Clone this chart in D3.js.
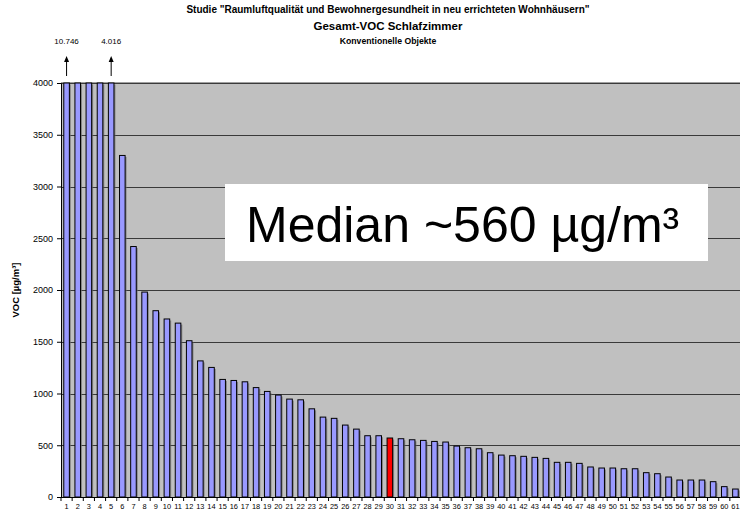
<!DOCTYPE html>
<html>
<head>
<meta charset="utf-8">
<script src="https://cdn.jsdelivr.net/npm/d3@7/dist/d3.min.js"></script>
<style>
  html, body { margin: 0; padding: 0; background: #fff; }
  svg { display: block; font-family: "Liberation Sans", Arial, sans-serif; }
</style>
</head>
<body>
<svg id="chart" width="740" height="516"></svg>
<script>
// Gesamt-VOC im Schlafzimmer, 61 konventionelle Objekte, absteigend sortiert
const objekte = d3.range(1, 62);
const vocWerte = [
  10746, 6200, 5100, 4400, 4016, 3300, 2420, 1980, 1800, 1720,
  1680, 1510, 1315, 1252, 1136, 1126, 1113, 1057, 1020, 985,
  946, 939, 852, 772, 760, 695, 656, 592, 592, 570,
  563, 553, 547, 537, 531, 492, 476, 466, 428, 405,
  399, 393, 383, 373, 335, 335, 325, 290, 280, 280,
  273, 273, 235, 225, 193, 164, 164, 164, 148, 100,
  77
];
const medianObjekt = 30;
const beschriftet = [1, 5];          // Werte oberhalb der Skala
const yTicks = [0, 500, 1000, 1500, 2000, 2500, 3000, 3500, 4000];
const titelZeilen = [
  'Studie "Raumluftqualität und Bewohnergesundheit in neu errichteten Wohnhäusern"',
  "Gesamt-VOC Schlafzimmer",
  "Konventionelle Objekte"
];
const medianText = "Median ~560 µg/m³";
const yTitel = "VOC [µg/m³]";

const de = d3.formatLocale({ decimal: ",", thousands: ".", grouping: [3], currency: ["", " €"] });
const fmt = de.format(",");

const svg = d3.select("#chart");
const plot = { left: 61, right: 741, top: 83, bottom: 497 };

const x = d3.scaleBand().domain(objekte).range([plot.left, plot.right]).paddingInner(0.5).paddingOuter(0.25);
const y = d3.scaleLinear().domain([0, 4000]).range([plot.bottom, plot.top]).clamp(true);

// Zeichenfläche
svg.append("rect")
  .attr("x", plot.left).attr("y", plot.top)
  .attr("width", plot.right - plot.left).attr("height", plot.bottom - plot.top)
  .attr("fill", "#c0c0c0");
svg.append("line")
  .attr("x1", plot.left).attr("x2", plot.right)
  .attr("y1", plot.top - 0.5).attr("y2", plot.top - 0.5)
  .attr("stroke", "#a0a0a0").attr("stroke-width", 1);

// Gitternetzlinien
svg.append("g").selectAll("line")
  .data(yTicks.filter(d => d > 0))
  .join("line")
  .attr("x1", plot.left).attr("x2", plot.right)
  .attr("y1", d => Math.round(y(d)) + 0.5).attr("y2", d => Math.round(y(d)) + 0.5)
  .attr("stroke", "#3a3a3a").attr("stroke-width", 1.2);

// Balken mit Schatten
const bars = svg.append("g");
const daten = objekte.map((o, i) => ({ o, v: vocWerte[i] }));
bars.selectAll("rect.schatten")
  .data(daten)
  .join("rect")
  .attr("class", "schatten")
  .attr("x", d => x(d.o) + 1.5)
  .attr("y", d => y(d.v) + 1.5)
  .attr("width", x.bandwidth())
  .attr("height", d => plot.bottom - y(d.v) - 1.5)
  .attr("fill", "#6e6e6e").attr("opacity", 0.7);
bars.selectAll("rect.balken")
  .data(daten)
  .join("rect")
  .attr("class", "balken")
  .attr("x", d => x(d.o))
  .attr("y", d => y(d.v))
  .attr("width", x.bandwidth())
  .attr("height", d => plot.bottom - y(d.v))
  .attr("fill", d => d.o === medianObjekt ? "#ff0000" : "#9999ff")
  .attr("stroke", "#000").attr("stroke-width", 1);

// y-Achse
const yAxis = d3.axisLeft(y).tickValues(yTicks).tickSize(4).tickPadding(4).tickFormat(d3.format("d"));
svg.append("g")
  .attr("transform", `translate(${plot.left},0)`)
  .call(yAxis)
  .call(g => g.select(".domain").attr("stroke", "#000"))
  .call(g => g.selectAll("text").attr("font-size", 9).attr("font-family", "Liberation Sans, Arial, sans-serif").attr("fill", "#000"));

// x-Achse mit Teilstrichen zwischen den Kategorien
svg.append("line")
  .attr("x1", plot.left).attr("x2", plot.right)
  .attr("y1", plot.bottom + 0.5).attr("y2", plot.bottom + 0.5)
  .attr("stroke", "#000");
const step = x.step();
svg.append("g").selectAll("line")
  .data(objekte)
  .join("line")
  .attr("x1", d => x(d) - (step - x.bandwidth()) / 2)
  .attr("x2", d => x(d) - (step - x.bandwidth()) / 2)
  .attr("y1", plot.bottom).attr("y2", plot.bottom + 4)
  .attr("stroke", "#000");
svg.append("g").selectAll("text")
  .data(objekte)
  .join("text")
  .attr("x", d => x(d) + x.bandwidth() / 2)
  .attr("y", plot.bottom + 12)
  .attr("text-anchor", "middle")
  .attr("font-size", 7.4)
  .text(d => d);

// Achsentitel
svg.append("text")
  .attr("transform", `translate(19,${(plot.top + plot.bottom) / 2}) rotate(-90)`)
  .attr("text-anchor", "middle")
  .attr("font-size", 9.5).attr("font-weight", "bold")
  .text(yTitel);

// Titel
const titelGroessen = [10, 11.5, 8.7];
const titelY = [13, 30, 44];
svg.append("g").selectAll("text")
  .data(titelZeilen)
  .join("text")
  .attr("x", 388)
  .attr("y", (d, i) => titelY[i])
  .attr("text-anchor", "middle")
  .attr("font-weight", "bold")
  .attr("font-size", (d, i) => titelGroessen[i])
  .text(d => d);

// Werte oberhalb der Skala mit Pfeil
const pfeile = svg.append("g");
beschriftet.forEach(o => {
  const cx = x(o) + x.bandwidth() / 2;
  pfeile.append("text")
    .attr("x", cx).attr("y", 44)
    .attr("text-anchor", "middle").attr("font-size", 8)
    .text(fmt(vocWerte[o - 1]));
  pfeile.append("line")
    .attr("x1", cx).attr("x2", cx)
    .attr("y1", 61).attr("y2", 76)
    .attr("stroke", "#000").attr("stroke-width", 1);
  pfeile.append("path")
    .attr("d", `M${cx},56 L${cx - 2.5},62 L${cx + 2.5},62 Z`)
    .attr("fill", "#000");
});

// Median-Hinweis
svg.append("rect")
  .attr("x", 225).attr("y", 184).attr("width", 483).attr("height", 77)
  .attr("fill", "#fff");
svg.append("text")
  .attr("x", 246).attr("y", 242)
  .attr("font-size", 50)
  .attr("font-family", "Liberation Sans, Arial, sans-serif")
  .text(medianText);
</script>
</body>
</html>
